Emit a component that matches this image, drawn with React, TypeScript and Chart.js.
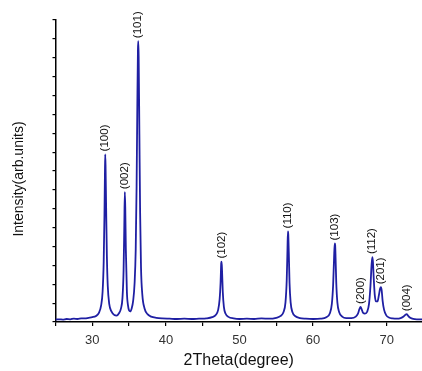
import React, { useEffect, useRef } from "react";
import { Chart, registerables } from "chart.js";

Chart.register(...registerables);

// 2θ (degree) sample positions and intensities (arb. units)
const twoTheta: number[] = [
  25.0, 25.5, 26.0, 26.5, 27.0, 27.5, 28.0, 28.5, 29.0, 29.5, 30.0, 30.5, 30.9, 31.2, 31.4, 31.55, 31.65, 31.72, 31.76, 31.8,
  31.88, 31.98, 32.1, 32.3, 32.6, 33.0, 33.3, 33.6, 33.9, 34.1, 34.25, 34.35, 34.42, 34.48, 34.56, 34.7, 34.85, 35.0, 35.15, 35.35,
  35.55, 35.75, 35.9, 36.02, 36.12, 36.2, 36.25, 36.3, 36.4, 36.5, 36.62, 36.8, 37.1, 37.5, 38.0, 38.7, 39.5, 40.5, 41.5, 42.5,
  43.5, 44.5, 45.5, 46.3, 46.8, 47.1, 47.3, 47.43, 47.52, 47.57, 47.63, 47.73, 47.88, 48.1, 48.5, 49.2, 50.0, 51.0, 52.0, 53.0,
  54.0, 55.0, 55.6, 56.0, 56.25, 56.42, 56.52, 56.58, 56.63, 56.7, 56.8, 56.95, 57.2, 57.6, 58.2, 59.0, 60.0, 61.0, 61.8, 62.3,
  62.55, 62.72, 62.85, 62.94, 63.0, 63.06, 63.15, 63.3, 63.55, 63.95, 64.5, 65.2, 65.8, 66.1, 66.3, 66.45, 66.6, 66.8, 67.05, 67.35,
  67.6, 67.8, 67.95, 68.05, 68.13, 68.23, 68.38, 68.55, 68.75, 68.95, 69.1, 69.22, 69.32, 69.45, 69.65, 69.95, 70.3, 70.8, 71.4, 71.9,
  72.3, 72.55, 72.72, 72.9, 73.2, 73.6, 74.1, 74.8,
];

const intensity: number[] = [
  0.8, 0.9, 0.8, 1.0, 0.9, 1.1, 1.0, 1.2, 1.2, 1.4, 1.6, 2.0, 3.0, 5.5, 10, 20, 35, 50, 55.5, 52,
  38, 22, 12, 6, 3.5, 2.3, 2.1, 2.8, 4.5, 8, 17, 32, 43, 38, 24, 10, 5.5, 3.8, 3.5, 4.5,
  7, 13, 24, 45, 72, 90, 93, 88, 62, 36, 18, 9, 4.5, 2.6, 1.8, 1.4, 1.2, 1.1, 1.0, 1.1,
  1.0, 1.1, 1.2, 1.6, 2.4, 4, 7.5, 13, 19.5, 20, 17, 10, 5, 2.8, 1.7, 1.2, 1.0, 1.1, 1.0, 1.2,
  1.1, 1.4, 2.0, 3.4, 6.5, 14, 24, 30, 29, 23, 13, 6.5, 3.2, 1.9, 1.3, 1.1, 1.0, 1.1, 1.6, 3,
  6, 12, 21, 26, 25.5, 21, 13, 6.5, 3.2, 1.8, 1.3, 1.3, 1.8, 2.8, 4.3, 5.0, 4.2, 3.0, 2.8, 3.4,
  6, 12, 19, 21.5, 20, 15, 9, 6.8, 6.8, 9, 11, 11.5, 10.5, 7, 4, 2.2, 1.5, 1.2, 1.1, 1.3,
  1.8, 2.4, 2.6, 2.1, 1.4, 1.0, 0.9, 0.9,
];

// Peak (Miller index) annotations
const peakLabels: string[] = ["(100)", "(002)", "(101)", "(102)", "(110)", "(103)", "(200)", "(112)", "(201)", "(004)"];
const peakX: number[] = [31.76, 34.42, 36.25, 47.57, 56.6, 62.97, 66.45, 68.05, 69.24, 72.72];
const peakY: number[] = [55.5, 43, 93, 20, 30, 26, 5.0, 21.5, 11.5, 2.6];

const xTickValues: number[] = [30, 40, 50, 60, 70];
const xTitle = "2Theta(degree)";
const yTitle = "Intensity(arb.units)";

const FONT = "'Liberation Sans', Arial, sans-serif";

export default function App() {
  const ref = useRef<HTMLCanvasElement | null>(null);

  useEffect(() => {
    const canvas = ref.current;
    if (!canvas) return;

    const annotate = {
      id: "annotate",
      afterDraw(chart: any) {
        const ctx = chart.ctx as CanvasRenderingContext2D;
        const xs = chart.scales.x;
        const ys = chart.scales.y;
        const area = chart.chartArea;
        ctx.save();
        // peak labels
        ctx.fillStyle = "#111";
        ctx.font = `11.5px ${FONT}`;
        ctx.textAlign = "left";
        ctx.textBaseline = "middle";
        for (let i = 0; i < peakLabels.length; i++) {
          const px = xs.getPixelForValue(peakX[i]);
          const py = ys.getPixelForValue(peakY[i]) - 3;
          ctx.save();
          ctx.translate(px, py);
          ctx.rotate(-Math.PI / 2);
          ctx.fillText(peakLabels[i], 0, 0);
          ctx.restore();
        }
        // axis titles
        ctx.fillStyle = "#111";
        ctx.font = `16px ${FONT}`;
        ctx.textAlign = "center";
        ctx.textBaseline = "middle";
        ctx.fillText(xTitle, (area.left + area.right) / 2, 361);
        ctx.save();
        ctx.font = `14px ${FONT}`;
        ctx.translate(19, 179);
        ctx.rotate(-Math.PI / 2);
        ctx.fillText(yTitle, 0, 0);
        ctx.restore();
        ctx.restore();
      },
    };

    const chart = new Chart(canvas, {
      type: "line",
      data: {
        datasets: [
          {
            data: twoTheta.map((x, i) => ({ x, y: intensity[i] })),
            borderColor: "#1f1fa3",
            borderWidth: 1.8,
            pointRadius: 0,
            cubicInterpolationMode: "monotone",
            fill: false,
          },
        ],
      },
      options: {
        responsive: false,
        animation: false,
        layout: { padding: { top: 20, right: 0, left: 0, bottom: 0 } },
        plugins: { legend: { display: false }, tooltip: { enabled: false } },
        scales: {
          x: {
            type: "linear",
            min: 25,
            max: 74.8,
            afterFit: (s: any) => {
              s.height = 49;
            },
            afterBuildTicks: (s: any) => {
              const t = [];
              for (let v = 25; v <= 74.8; v += 5) t.push({ value: v });
              s.ticks = t;
            },
            ticks: {
              autoSkip: false,
              maxRotation: 0,
              padding: 7,
              color: "#333",
              font: { family: FONT, size: 13 },
              callback: (v: any) => (xTickValues.includes(Number(v)) ? String(v) : ""),
            },
            grid: { drawOnChartArea: false, tickLength: 4, color: "#000", lineWidth: 1.2 },
            border: { color: "#000", width: 1.5 },
          },
          y: {
            type: "linear",
            min: 0,
            max: 100,
            afterFit: (s: any) => {
              s.width = 55.5;
            },
            ticks: { stepSize: 6.25, display: true, callback: () => "", padding: 0 },
            grid: { drawOnChartArea: false, tickLength: 3, color: "#000", lineWidth: 1.2 },
            border: { color: "#000", width: 1.5 },
          },
        },
      },
      plugins: [annotate],
    });

    return () => chart.destroy();
  }, []);

  return (
    <div style={{ position: "absolute", left: 0, top: 0, width: 422, height: 371, background: "#fff" }}>
      <canvas ref={ref} width={422} height={371} style={{ display: "block" }} />
    </div>
  );
}
